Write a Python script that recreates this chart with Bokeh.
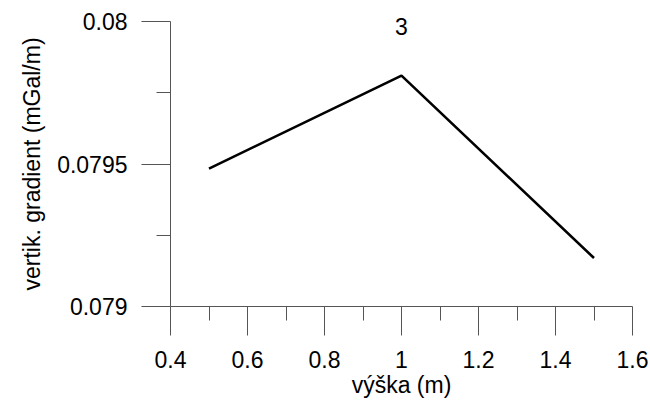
from bokeh.plotting import figure
from bokeh.models import FixedTicker, CustomJSTickFormatter, Label, Range1d, Title
from bokeh.embed import file_html
from bokeh.resources import INLINE

# Data
heights = [0.5, 1.0, 1.5]
gradient = [0.079484, 0.079810, 0.079170]
title_text = "3"
x_major = [0.4, 0.6, 0.8, 1.0, 1.2, 1.4, 1.6]
x_minor = [0.5, 0.7, 0.9, 1.1, 1.3, 1.5]
y_major = [0.079, 0.0795, 0.08]
y_minor = [0.07925, 0.07975]
x_label = "výška (m)"
y_label = "vertik. gradient (mGal/m)"

FONT = "Liberation Sans"
FS = "23px"
AX = "#555555"

# frame spans full height above the x axis; the y axis line is bounded to 0.079..0.08
y_top = 0.079 + 306 / 285 * 0.001

p = figure(width=650, height=402, output_backend="svg", toolbar_location=None,
           x_range=Range1d(0.4, 1.6), y_range=Range1d(0.079, y_top),
           min_border_left=170, min_border_right=18, min_border_top=0,
           min_border_bottom=96)
p.outline_line_color = None
p.grid.visible = False
p.background_fill_color = "white"
p.border_fill_color = "white"

p.line(heights, gradient, line_color="black", line_width=2.6)

fmt = CustomJSTickFormatter(code="return parseFloat(tick.toFixed(5)).toString();")

for ax, maj, mnr in ((p.xaxis[0], x_major, x_minor), (p.yaxis[0], y_major, y_minor)):
    ax.ticker = FixedTicker(ticks=maj, minor_ticks=mnr)
    ax.formatter = fmt
    ax.axis_line_color = AX
    ax.major_tick_line_color = AX
    ax.minor_tick_line_color = AX
    ax.major_tick_in = 0
    ax.major_tick_out = 29
    ax.minor_tick_in = 0
    ax.minor_tick_out = 14
    ax.major_label_text_font = FONT
    ax.major_label_text_font_size = FS
    ax.major_label_text_color = "black"
    ax.axis_label_text_font = FONT
    ax.axis_label_text_font_size = FS
    ax.axis_label_text_font_style = "normal"
    ax.axis_label_text_color = "black"

p.yaxis.bounds = (y_major[0], y_major[-1])
p.xaxis.axis_label = x_label
p.xaxis.major_label_standoff = 15
p.yaxis.major_label_standoff = 14
p.xaxis.axis_label_standoff = 1

# y axis label as a left-side title so it can be centred on the bounded axis
p.add_layout(Title(text=y_label, align="left", offset=16, vertical_align="bottom",
                   standoff=19, text_font=FONT, text_font_size=FS,
                   text_font_style="normal", text_color="black"), "left")

p.add_layout(Label(x=1.0, y=0.079981, text=title_text, text_font=FONT,
                   text_font_size=FS, text_align="center", text_baseline="middle",
                   text_color="black"))

open("out.html", "w").write(file_html(p, INLINE))
